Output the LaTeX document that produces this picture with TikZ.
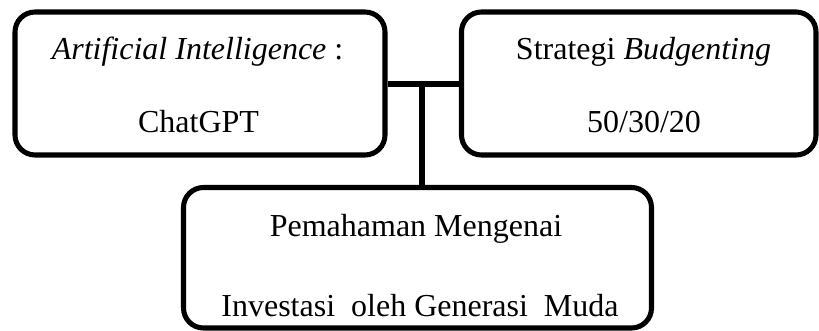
\documentclass[tikz,border=0pt]{standalone}
\usepackage{fontspec}
\setmainfont{Liberation Serif}
\usetikzlibrary{positioning}

\begin{document}
\begin{tikzpicture}[x=0.75pt,y=-0.75pt,
                    box/.style={draw,line width=3.8pt,rounded corners=15pt,inner sep=0pt},
                    txt/.style={anchor=base,inner sep=0pt,font=\fontsize{24}{29}\selectfont},
                    link/.style={line width=4pt}]
    \useasboundingbox (0,0) rectangle (819,331);

    % boxes
    \node[box,minimum width=277.5pt,minimum height=107.25pt] (ai) at (200,83.5) {};
    \node[box,minimum width=265.9pt,minimum height=107.25pt] (budget) at (638.75,83.5) {};
    \node[box,minimum width=351pt,minimum height=105.4pt] (invest) at (417.5,257.75) {};

    % texts
    \node[txt] (aitop) at (197.5,60) {\textit{Artificial Intelligence} :};
    \node[txt] (aibot) at (198.5,133) {ChatGPT};
    \node[txt] (budgettop) at (643.5,60) {Strategi \textit{Budgenting}};
    \node[txt] (budgetbot) at (644,133) {50/30/20};
    \node[txt] (investtop) at (416,237) {Pemahaman Mengenai};
    \node[txt] (investbot) at (420,317) {Investasi\ \ oleh Generasi\ \ Muda};

    % connectors
    \coordinate (joint) at (422,84);
    \draw[link] (ai.east |- joint) -- (budget.west |- joint);
    \draw[link] (joint) -- (joint |- invest.north);
\end{tikzpicture}
\end{document}
